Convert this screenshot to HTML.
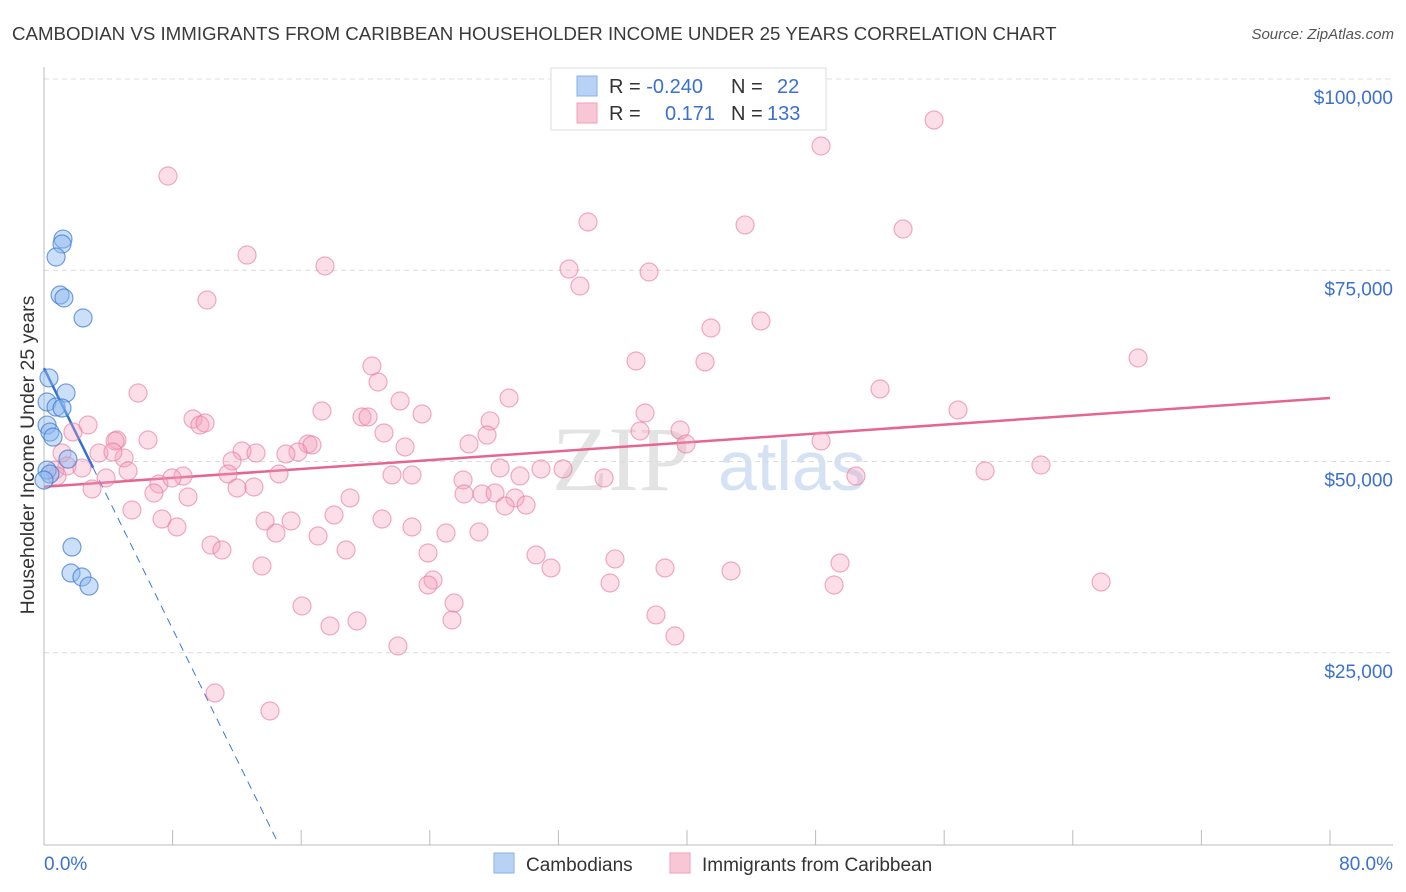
<!DOCTYPE html>
<html><head><meta charset="utf-8"><style>
body{margin:0;background:#fff;font-family:"Liberation Sans",sans-serif}
svg{display:block}
</style></head><body>
<svg id="chart" width="1406" height="892" viewBox="0 0 1406 892">
<text x="12" y="40" font-size="18.7" fill="#3a3a3a">CAMBODIAN VS IMMIGRANTS FROM CARIBBEAN HOUSEHOLDER INCOME UNDER 25 YEARS CORRELATION CHART</text>
<text x="1394" y="39" font-size="15" font-style="italic" fill="#555" text-anchor="end">Source: ZipAtlas.com</text>
<text transform="translate(34,455) rotate(-90)" font-size="19.5" fill="#333" text-anchor="middle">Householder Income Under 25 years</text>
<g><text x="552" y="490" font-size="92" font-family="Liberation Serif" fill="#e3e3e3">ZIP</text><text x="718" y="490" font-size="70" fill="#d5e2f3">atlas</text></g>
<g id="grid"></g><g id="axes"></g><g id="trends"></g><g id="pts"></g>
<g>
<rect x="551" y="68" width="275" height="62" fill="#fff" stroke="#ddd"/>
<rect x="577" y="76" width="20" height="20" fill="#b7d2f5" stroke="#8ab0e6"/>
<rect x="577" y="103" width="20" height="20" fill="#f9c6d6" stroke="#f0a0b8"/>
<text x="609" y="93" font-size="20" fill="#333">R = <tspan fill="#3b70d0">-0.240</tspan>   <tspan x="731">N =</tspan> <tspan x="777" fill="#3b70d0">22</tspan></text>
<text x="609" y="120" font-size="20" fill="#333">R = <tspan x="665" fill="#3b70d0">0.171</tspan><tspan x="731">N =</tspan> <tspan x="767" fill="#3b70d0">133</tspan></text>
</g>
<g>
<rect x="494" y="853" width="20" height="20" fill="#b7d2f5" stroke="#8ab0e6"/>
<text x="526" y="871" font-size="19" fill="#333">Cambodians</text>
<rect x="670" y="853" width="20" height="20" fill="#f9c6d6" stroke="#f0a0b8"/>
<text x="702" y="871" font-size="19" fill="#333">Immigrants from Caribbean</text>
</g>
</svg>
<script>
const yTicks=[25000,50000,75000,100000];
const yTickLabels=["$25,000","$50,000","$75,000","$100,000"];
const xTickCount=10;
const xMax=80;
const blueX=[1.18,1.12,0.75,1.00,1.24,2.43,0.31,1.37,0.19,0.75,1.12,0.19,0.37,0.56,1.49,0.19,0.37,1.74,1.68,2.36,2.80,0];
const blueY=[79080,78430,76730,71760,71370,68760,60920,58960,57780,57120,56990,54760,53850,53190,50310,48880,48360,38820,35420,34900,33720,47570];
const pinkX=[7.71,55.37,48.34,33.84,43.61,53.44,12.63,17.48,32.66,33.34,37.64,10.14,41.49,44.60,36.83,41.12,68.06,20.40,20.78,52.01,5.85,28.93,22.15,17.29,56.86,9.27,19.78,20.16,23.52,37.39,27.75,9.70,2.74,10.02,21.15,4.54,6.47,4.42,37.08,39.57,27.56,22.46,26.44,48.34,39.94,16.42,16.67,1.80,12.32,15.80,13.19,3.42,15.05,1.12,4.98,11.70,30.92,32.29,28.37,62.02,58.54,1.43,0.68,2.36,5.23,0.81,14.62,11.45,21.65,22.89,34.84,50.51,7.15,8.65,7.96,26.07,29.61,2.99,3.86,13.06,12.01,6.84,8.96,26.13,27.25,28.06,19.04,29.30,28.68,29.99,18.04,5.47,7.34,13.75,8.27,21.03,15.37,14.43,22.89,17.05,25.01,27.06,10.39,11.07,18.79,23.89,30.61,35.52,49.52,13.56,31.54,38.63,42.74,24.20,23.89,35.21,49.15,65.76,25.51,16.05,38.07,19.47,25.38,17.79,39.25,22.02,10.64,14.06,4.29];
const pinkY=[87320,94640,91240,81310,80920,80390,76990,75560,75160,72940,74770,71110,67450,68370,63140,63010,63530,62480,60390,59480,58950,58300,57910,56600,56730,55560,55820,55820,56210,56340,55300,54770,54770,55030,53730,52810,52810,52680,53990,54120,53460,51900,52290,52680,52290,52290,52160,53860,51370,51240,51110,51110,50980,51110,50460,50070,49020,49020,49150,49540,48760,49410,48890,49150,48760,48100,48370,48370,48240,48240,47840,48100,47060,48100,47840,47580,48100,46410,47840,46670,46540,45880,45360,45750,45750,45880,45230,45230,44180,44310,43010,43660,42480,42220,41440,42480,42220,40650,41440,40260,40650,40780,39080,38430,38430,38040,37780,37260,36730,36340,36080,36080,35690,34510,33860,34120,33860,34250,31500,31110,29940,29150,29280,28500,27190,25880,19740,17390,51240];
const pinkTrendX=[0,80];
const pinkTrendY=[46700,58300];
const blueTrendX=[0,3.05];
const blueTrendY=[62200,49200];
const NS="http://www.w3.org/2000/svg";
const X0=44,X1=1330,Y0=844,YT=79;
const sx=p=>X0+p/xMax*(X1-X0);
const sy=v=>Y0-v/100000*(Y0-YT);
function mk(tag,attrs,parent){const e=document.createElementNS(NS,tag);for(const k in attrs)e.setAttribute(k,attrs[k]);document.getElementById(parent).appendChild(e);return e;}
yTicks.forEach((t,i)=>{
 const g=mk('line',{x1:44,x2:1393,y1:sy(t),y2:sy(t),stroke:'#dcdcdc','stroke-dasharray':'5,4'},'grid');
 
 
 const l=mk('text',{x:1393,y:sy(t)+25,'font-size':19,fill:'#3b70d0','text-anchor':'end'},'axes');
 l.textContent=yTickLabels[i];
 
 
});
const ya=mk('line',{x1:44,x2:44,y1:67,y2:845,stroke:'#bbb'},'axes');


const xa=mk('line',{x1:44,x2:1393,y1:845,y2:845,stroke:'#bbb'},'axes');


for(let i=0;i<=xTickCount;i++){
 const tk=mk('line',{x1:sx(i*xMax/xTickCount),x2:sx(i*xMax/xTickCount),y1:830,y2:845,stroke:'#bbb'},'axes');
 
 
}
const xl0=mk('text',{x:44,y:870,'font-size':19,fill:'#3b70d0'},'axes');xl0.textContent='0.0%';


const xl1=mk('text',{x:1393,y:870,'font-size':19,fill:'#3b70d0','text-anchor':'end'},'axes');xl1.textContent='80.0%';


pinkX.forEach((x,i)=>{
 const c=mk('circle',{cx:sx(x),cy:sy(pinkY[i]),r:9,fill:'rgba(244,160,188,0.35)',stroke:'rgba(232,120,155,0.6)','stroke-width':1.2},'pts');
 
 
});
blueX.forEach((x,i)=>{
 const c=mk('circle',{cx:sx(x),cy:sy(blueY[i]),r:9,fill:'rgba(140,185,240,0.45)',stroke:'rgba(60,120,210,0.7)','stroke-width':1.2},'pts');
 
 
});
const pt=mk('line',{x1:sx(pinkTrendX[0]),y1:sy(pinkTrendY[0]),x2:sx(pinkTrendX[1]),y2:sy(pinkTrendY[1]),stroke:'#e4668f','stroke-width':2.5},'trends');


const slope=(blueTrendY[1]-blueTrendY[0])/(blueTrendX[1]-blueTrendX[0]);
const xz=blueTrendX[0]-blueTrendY[0]/slope;
const bd=mk('line',{x1:sx(blueTrendX[1]),y1:sy(blueTrendY[1]),x2:sx(xz),y2:sy(0),stroke:'#3b78d8','stroke-width':1,'stroke-dasharray':'8,6'},'trends');


const bt=mk('line',{x1:sx(blueTrendX[0]),y1:sy(blueTrendY[0]),x2:sx(blueTrendX[1]),y2:sy(blueTrendY[1]),stroke:'#2f6fd8','stroke-width':2.5},'trends');


</script>
</body></html>
